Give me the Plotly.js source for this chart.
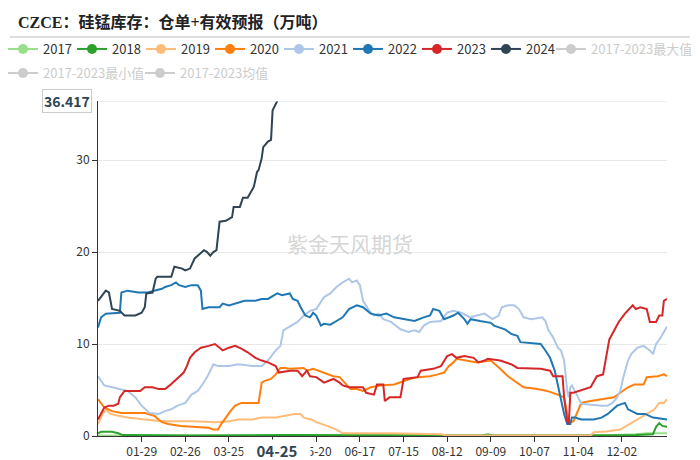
<!DOCTYPE html>
<html>
<head>
<meta charset="utf-8">
<script src="https://cdn.plot.ly/plotly-3.0.1.min.js"></script>
<style>
  html, body { margin: 0; padding: 0; background: #fff; }
  #chart { width: 700px; height: 460px; }
</style>
</head>
<body>
<div id="chart"></div>
<script>
// Day-of-year (0 = 01-01 of a leap year) and stock in 10k tonnes, per year.
const d2017 = [0, 120, 240, 250, 260, 330, 345, 352, 365];
const v2017 = [0.05, 0.05, 0.05, 0.12, 0.05, 0.1, 0.2, 0.3, 0.3];

const d2018 = [0, 2, 9, 13, 16, 60, 120, 200, 245, 250, 255, 300, 345, 356, 358, 360, 362, 365];
const v2018 = [0.3, 0.45, 0.45, 0.3, 0.1, 0.05, 0.1, 0.05, 0.05, 0.15, 0.05, 0.05, 0.1, 0.2, 1.0, 1.4, 1.1, 1.0];

const d2019 = [0, 3, 5, 8, 13, 19, 30, 41, 62, 75, 84, 90, 99, 105, 114, 120, 126, 130, 132, 137,
  140, 147, 153, 157, 187, 220, 224, 316, 318, 326, 335, 339, 344, 350, 357, 360, 363, 365];
const v2019 = [1.3, 2.4, 2.9, 2.4, 2.2, 2.0, 1.8, 1.6, 1.6, 1.5, 1.6, 1.8, 1.8, 2.0, 2.0, 2.2, 2.4, 2.4, 2.0, 1.8,
  1.5, 1.1, 0.7, 0.3, 0.3, 0.2, 0.05, 0.05, 0.4, 0.5, 0.7, 1.1, 1.6, 2.2, 2.9, 3.6, 3.6, 4.0];

const d2020 = [0, 2, 4, 9, 15, 30, 36, 41, 45, 53, 62, 71, 74, 77, 79, 81, 85, 88, 92, 103,
  105, 107, 111, 114, 117, 120, 123, 132, 134, 138, 145, 151, 155, 159, 162, 166, 170, 175, 181, 190,
  196, 200, 205, 213, 218, 222, 225, 228, 230, 237, 243, 252, 255, 258, 263, 267, 273, 282, 288, 295,
  299, 301, 302, 305, 308, 310, 316, 325, 331, 335, 340, 344, 350, 352, 359, 363, 365];
const v2020 = [4.0, 3.5, 3.1, 2.7, 2.5, 2.5, 2.2, 1.5, 1.3, 1.1, 1.0, 0.9, 0.7, 0.7, 1.3, 1.8, 2.7, 3.3, 3.6, 3.6,
  5.8, 6.0, 6.2, 6.7, 7.4, 7.4, 7.3, 7.4, 7.1, 7.3, 6.9, 6.5, 6.4, 5.6, 5.1, 5.1, 4.9, 5.3, 5.5, 5.6,
  6.0, 6.2, 6.4, 6.5, 6.7, 6.9, 7.6, 8.0, 8.4, 8.2, 8.0, 8.2, 7.8, 7.3, 6.5, 6.0, 5.3, 5.1, 4.9, 4.5,
  4.2, 2.4, 1.5, 1.6, 2.7, 3.6, 3.8, 4.0, 4.2, 4.7, 5.3, 5.6, 5.6, 6.4, 6.5, 6.7, 6.5];

const d2021 = [0, 4, 9, 15, 19, 24, 28, 33, 39, 43, 47, 51, 56, 60, 64, 67, 70, 72, 74, 77,
  84, 90, 99, 105, 109, 114, 117, 119, 122, 128, 132, 136, 140, 145, 149, 153, 157, 161, 163, 166,
  168, 170, 174, 177, 180, 183, 188, 194, 199, 203, 206, 209, 213, 220, 224, 228, 233, 239, 243, 248,
  253, 257, 259, 263, 267, 270, 273, 278, 285, 287, 289, 292, 295, 297, 299, 301, 302, 303, 304, 306,
  308, 310, 316, 323, 327, 330, 333, 335, 337, 340, 342, 346, 350, 354, 356, 358, 361, 364, 365];
const v2021 = [6.5, 5.5, 5.3, 5.1, 4.9, 4.2, 3.3, 2.5, 2.4, 2.7, 2.9, 3.3, 3.6, 4.5, 4.9, 5.6, 6.4, 7.1, 7.8, 7.6,
  7.6, 7.8, 7.6, 7.6, 8.2, 9.3, 9.8, 11.5, 11.8, 12.4, 13.1, 13.6, 13.8, 15.1, 15.5, 16.2, 16.7, 17.1, 16.7, 16.9,
  16.4, 14.7, 13.6, 13.1, 13.3, 12.7, 12.4, 11.6, 11.3, 11.5, 11.3, 12.0, 12.4, 12.5, 13.4, 13.6, 13.4, 12.9, 13.1, 13.3,
  12.7, 13.1, 14.0, 14.2, 14.2, 13.8, 12.9, 12.7, 12.9, 12.5, 11.5, 10.7, 9.6, 9.3, 8.2, 4.9, 4.2, 5.3, 5.5, 4.9,
  4.2, 3.5, 3.4, 3.3, 3.3, 3.6, 4.2, 4.9, 6.4, 8.2, 8.9, 9.6, 9.8, 9.3, 8.9, 10.0, 10.7, 11.6, 11.9];

const d2022 = [0, 2, 5, 11, 14, 15, 19, 26, 32, 36, 41, 43, 47, 50, 52, 56, 60, 64, 66, 67,
  71, 78, 80, 84, 90, 94, 101, 105, 109, 115, 118, 123, 125, 128, 130, 133, 136, 138, 140, 143,
  145, 149, 153, 157, 161, 166, 170, 175, 180, 185, 190, 196, 203, 209, 213, 215, 219, 222, 228, 231,
  235, 237, 239, 245, 252, 254, 261, 265, 269, 271, 284, 287, 290, 293, 296, 299, 301, 303, 304, 306,
  310, 318, 323, 327, 333, 338, 340, 346, 351, 356, 365];
const v2022 = [11.8, 12.9, 13.3, 13.4, 13.4, 15.6, 15.8, 15.6, 15.6, 15.8, 16.0, 16.2, 16.4, 16.7, 16.4, 16.2, 16.4, 16.4, 15.8, 13.8,
  14.0, 14.0, 14.4, 14.2, 14.5, 14.7, 14.7, 14.9, 14.9, 15.5, 15.3, 15.5, 14.9, 14.7, 14.0, 13.1, 12.9, 13.4, 13.1, 12.0,
  12.2, 12.1, 12.5, 12.9, 13.8, 14.2, 14.0, 13.3, 13.1, 13.3, 12.9, 12.7, 12.5, 12.9, 13.1, 13.8, 13.6, 12.7, 13.1, 13.4,
  12.7, 12.2, 12.7, 12.5, 12.3, 12.0, 11.6, 11.1, 10.9, 10.2, 10.0, 9.3, 8.5, 7.1, 4.9, 2.4, 1.3, 1.3, 2.0, 2.0,
  1.8, 1.8, 2.0, 2.4, 3.3, 3.6, 2.9, 2.4, 2.4, 2.0, 1.8];

const d2023 = [0, 2, 4, 7, 10, 13, 14, 17, 27, 30, 35, 39, 43, 46, 49, 52, 55, 57, 59, 62,
  66, 71, 75, 78, 80, 84, 88, 92, 96, 101, 105, 109, 114, 116, 123, 128, 131, 134, 136, 140,
  145, 151, 155, 157, 161, 170, 172, 177, 179, 183, 184, 187, 194, 196, 205, 207, 215, 220, 222, 224,
  227, 230, 235, 241, 244, 248, 250, 258, 265, 269, 284, 290, 292, 298, 299, 301, 302, 303, 305, 316,
  320, 324, 328, 331, 334, 338, 341, 343, 345, 348, 352, 354, 358, 360, 362, 363, 365];
const v2023 = [1.8, 2.4, 3.1, 3.3, 3.3, 3.5, 4.2, 4.9, 4.9, 5.3, 5.3, 5.1, 5.1, 5.5, 6.0, 6.4, 6.9, 7.6, 8.5, 9.1,
  9.6, 9.8, 10.0, 9.6, 9.3, 9.6, 9.8, 9.5, 9.1, 8.5, 8.2, 8.0, 7.6, 6.9, 7.1, 7.1, 6.5, 7.1, 6.5, 6.4,
  5.8, 6.2, 5.8, 5.5, 5.3, 5.3, 4.7, 4.5, 5.6, 5.6, 3.8, 4.2, 4.2, 6.2, 6.4, 7.1, 7.3, 7.6, 8.2, 8.7,
  8.9, 8.5, 8.7, 8.5, 8.0, 8.2, 8.4, 8.2, 7.8, 7.4, 7.3, 7.1, 6.5, 6.5, 4.2, 1.6, 1.3, 4.7, 4.7, 5.3,
  6.5, 6.7, 10.5, 11.5, 12.4, 13.3, 13.8, 14.2, 13.8, 14.0, 13.8, 12.4, 12.4, 13.1, 13.1, 14.7, 14.9];

const d2024 = [0, 5, 7, 9, 14, 17, 24, 28, 30, 31, 35, 37, 38, 47, 49, 54, 56, 59, 62, 65,
  68, 70, 72, 74, 76, 78, 82, 86, 87, 91, 93, 96, 100, 102, 103, 105, 106, 109, 111, 112, 114, 115];
const v2024 = [14.7, 15.8, 15.6, 13.8, 13.6, 13.1, 13.1, 13.4, 14.0, 15.5, 15.6, 17.1, 17.3, 17.3, 18.4, 18.2, 18.0, 18.2, 19.3, 19.8,
  20.2, 20.0, 19.6, 20.0, 20.2, 23.3, 23.4, 23.8, 24.9, 24.9, 25.9, 25.9, 27.1, 28.7, 28.9, 30.2, 31.4, 32.0, 32.2, 35.4, 36.0, 36.417];

// x-axis ticks every 28 days; the 04-22 slot sits under the pointer label
const tickDays = [28, 56, 84, 112, 140, 168, 196, 224, 252, 280, 308, 336];
const tickLabels = ['01-29', '02-26', '03-25', '', '05-20', '06-17', '07-15', '08-12', '09-09', '10-07', '11-04', '12-02'];

// highlighted point (latest 2024 reading)
const pointerDay = 115;
const pointerDate = '04-25';
const pointerValue = 36.417;

const seriesNames = ['2017', '2018', '2019', '2020', '2021', '2022', '2023', '2024'];
const seriesColors = ['#98df8a', '#2ca02c', '#ffbb78', '#ff7f0e', '#aec7e8', '#1f77b4', '#d62728', '#2f4554'];
const seriesDays = [d2017, d2018, d2019, d2020, d2021, d2022, d2023, d2024];
const seriesVals = [v2017, v2018, v2019, v2020, v2021, v2022, v2023, v2024];

// statistic series switched off in the legend
const statNames = ['2017-2023最大值', '2017-2023最小值', '2017-2023均值'];
const statLegends = ['legend3', 'legend2', 'legend2'];
const offColor = '#cccccc';

const FONT = 'Noto Sans CJK SC, Noto Sans, sans-serif';

const traces = [];
seriesNames.forEach((name, i) => {
  traces.push({
    type: 'scatter', mode: 'lines', name: name,
    x: seriesDays[i], y: seriesVals[i],
    line: { color: seriesColors[i], width: 2 },
    showlegend: false, hoverinfo: 'skip'
  });
});
// legend entries (line + dot icon); a single blank point keeps each entry alive
seriesNames.forEach((name, i) => {
  traces.push({
    type: 'scatter', mode: 'lines+markers', name: name,
    x: [null], y: [null],
    line: { color: seriesColors[i], width: 2 },
    marker: { color: seriesColors[i], size: 10 },
    legend: 'legend', legendwidth: 24, hoverinfo: 'skip'
  });
});
statNames.forEach((name, i) => {
  const entry = {
    type: 'scatter', mode: 'lines+markers',
    name: '<span style="color:' + offColor + '">' + name + '</span>',
    x: [null], y: [null],
    line: { color: offColor, width: 2 },
    marker: { color: offColor, size: 10 },
    legend: statLegends[i], hoverinfo: 'skip'
  };
  if (i === 1) entry.legendwidth = 92;
  traces.push(entry);
});

const W = 700, H = 460;
const ml = 98, mr = 33, mt = 101, mb = 24;
const pw = W - ml - mr, ph = H - mt - mb;
const px = v => (v - ml) / pw;          // container px -> paper x
const py = v => (H - mb - v) / ph;      // container px -> paper y

const legendBase = {
  orientation: 'h', xref: 'container', yref: 'container',
  xanchor: 'left', yanchor: 'top',
  font: { family: FONT, size: 13, color: '#333' },
  bgcolor: 'rgba(0,0,0,0)', borderwidth: 0, itemclick: false, itemdoubleclick: false
};

const layout = {
  width: W, height: H,
  margin: { l: ml, r: mr, t: mt, b: mb },
  paper_bgcolor: '#ffffff', plot_bgcolor: '#ffffff',
  font: { family: FONT, size: 12, color: '#333' },
  showlegend: true,
  title: {
    text: 'CZCE：硅锰库存：仓单+有效预报（万吨）',
    xref: 'container', yref: 'container',
    x: 18 / W, xanchor: 'left', y: 1 - 22 / H, yanchor: 'middle',
    font: { family: 'Liberation Serif, Noto Sans CJK SC, serif', size: 16, color: '#222', weight: 'bold' }
  },
  xaxis: {
    range: [0, 365], tickmode: 'array', tickvals: tickDays, ticktext: tickLabels,
    showline: true, linecolor: '#333', linewidth: 1,
    ticks: 'outside', ticklen: 5, tickcolor: '#333',
    showgrid: false, zeroline: false,
    tickfont: { family: FONT, size: 12, color: '#333' }, fixedrange: true
  },
  yaxis: {
    range: [0, pointerValue], tickmode: 'array', tickvals: [0, 10, 20, 30],
    showline: true, linecolor: '#333', linewidth: 1,
    ticks: 'outside', ticklen: 5, tickcolor: '#333',
    showgrid: true, gridcolor: '#e8e8e8', zeroline: false,
    tickfont: { family: FONT, size: 12, color: '#333' }, fixedrange: true
  },
  legend: Object.assign({}, legendBase, { x: 3 / W, y: 1 - 34 / H }),
  legend2: Object.assign({}, legendBase, { x: 3 / W, y: 1 - 58 / H }),
  legend3: Object.assign({}, legendBase, { x: 551 / W, y: 1 - 34 / H }),
  shapes: [
    // rule under the title
    { type: 'line', xref: 'paper', yref: 'paper', x0: px(10), x1: px(690), y0: py(37), y1: py(37),
      line: { color: '#dddddd', width: 2 } },
    // horizontal pointer line at the latest value
    { type: 'line', xref: 'paper', yref: 'y', x0: 0, x1: 1, y0: pointerValue, y1: pointerValue,
      line: { color: '#dddddd', width: 1 } }
  ],
  annotations: [
    { text: '紫金天风期货', xref: 'paper', yref: 'paper', x: px(350), y: py(243),
      showarrow: false, font: { family: FONT, size: 21, color: '#d6d6d6' } },
    { text: '<b>' + pointerValue.toFixed(3) + '</b>', xref: 'paper', yref: 'y', x: 0, y: pointerValue,
      xanchor: 'right', yanchor: 'middle', xshift: -6, showarrow: false,
      bgcolor: '#ffffff', bordercolor: '#cccccc', borderwidth: 1, borderpad: 1,
      font: { family: FONT, size: 14, color: '#2f4554' } },
    { text: '<b>' + pointerDate + '</b>', xref: 'x', yref: 'paper', x: pointerDay, y: 0,
      xanchor: 'center', yanchor: 'top', yshift: -3, showarrow: false,
      width: 64, height: 19, bgcolor: '#ffffff',
      font: { family: FONT, size: 15, color: '#2f4554' } }
  ]
};

Plotly.newPlot('chart', traces, layout, { staticPlot: true, displayModeBar: false });
</script>
</body>
</html>
